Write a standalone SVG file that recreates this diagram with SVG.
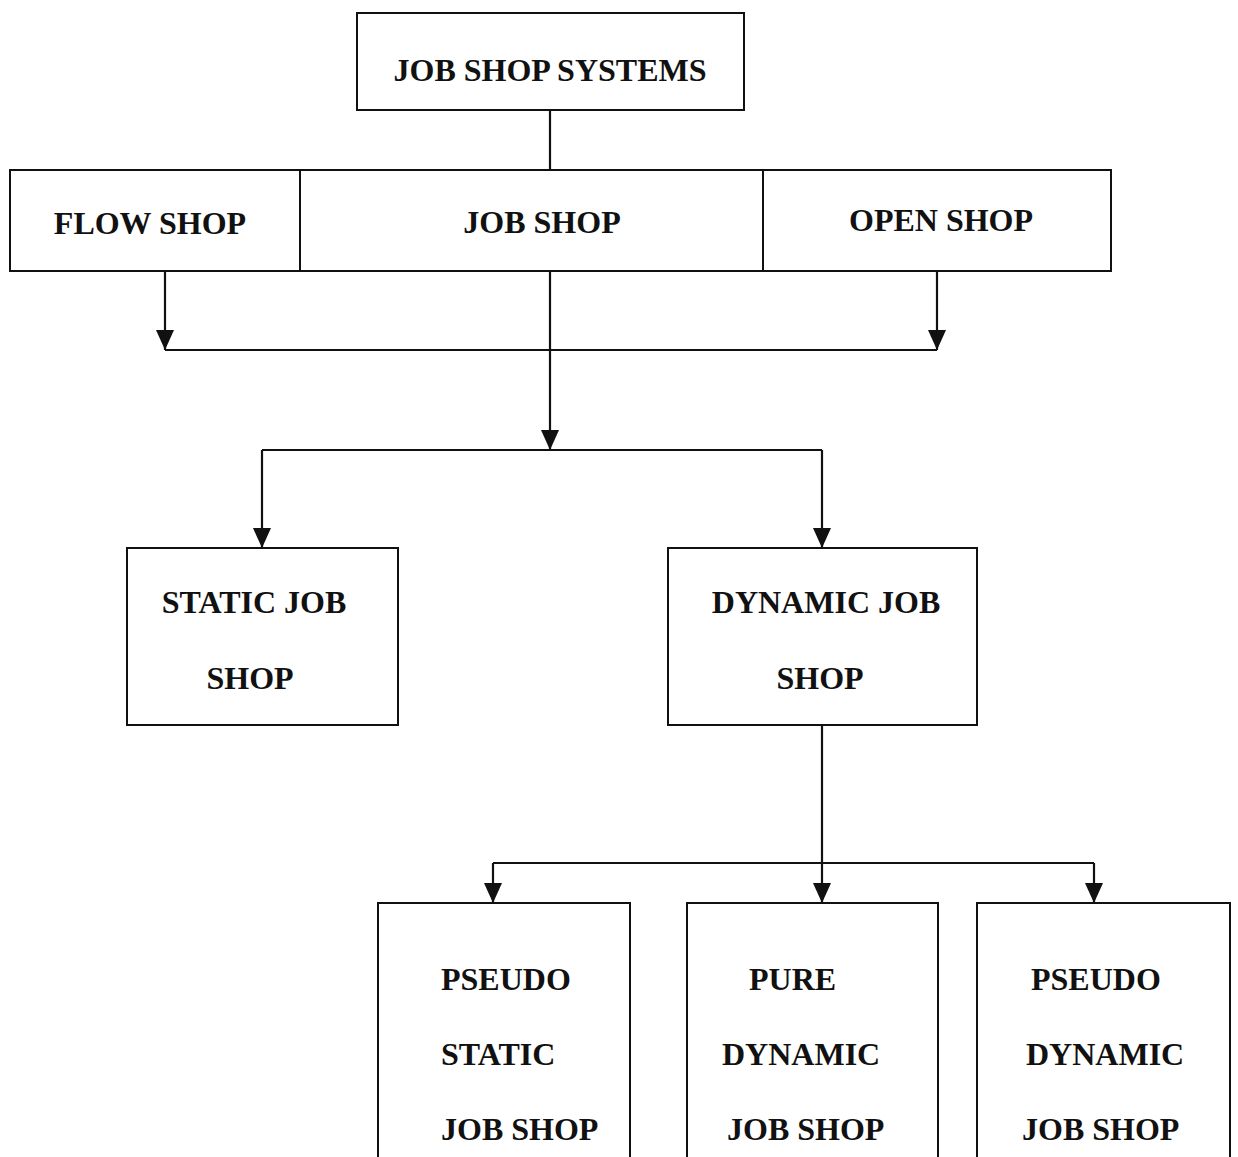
<svg xmlns="http://www.w3.org/2000/svg" width="1238" height="1157" viewBox="0 0 1238 1157">
<style>
.box{fill:#fff;stroke:#111;stroke-width:2}
.t{font-family:"Liberation Serif","Times New Roman",serif;font-weight:bold;font-size:32px;fill:#111}
.c{text-anchor:middle}
.ln{fill:none;stroke:#111;stroke-width:2.2}
</style>
<defs>
<marker id="arr" viewBox="0 0 20 18" refX="20" refY="9" markerWidth="20" markerHeight="18" markerUnits="userSpaceOnUse" orient="auto">
<path d="M0,0 L20,9 L0,18 z" fill="#111"/>
</marker>
</defs>
<rect width="1238" height="1157" fill="#fff"/>
<g id="connectors">
<path class="ln" d="M550,110 V170"/>
<path class="ln" d="M165,271 V350" marker-end="url(#arr)"/>
<path class="ln" d="M937,271 V350" marker-end="url(#arr)"/>
<path class="ln" d="M165,350 H937"/>
<path class="ln" d="M550,271 V450" marker-end="url(#arr)"/>
<path class="ln" d="M262,450 H822"/>
<path class="ln" d="M262,450 V548" marker-end="url(#arr)"/>
<path class="ln" d="M822,450 V548" marker-end="url(#arr)"/>
<path class="ln" d="M822,725 V903" marker-end="url(#arr)"/>
<path class="ln" d="M493,863 H1094"/>
<path class="ln" d="M493,863 V903" marker-end="url(#arr)"/>
<path class="ln" d="M1094,863 V903" marker-end="url(#arr)"/>
</g>
<g id="job-shop-systems">
<rect class="box" x="357" y="13" width="387" height="97"/>
<text class="t c" x="550" y="81">JOB SHOP SYSTEMS</text>
</g>
<g id="flow-shop">
<rect class="box" x="10" y="170" width="290" height="101"/>
<text class="t c" x="150" y="234">FLOW SHOP</text>
</g>
<g id="job-shop">
<rect class="box" x="300" y="170" width="463" height="101"/>
<text class="t c" x="542" y="233">JOB SHOP</text>
</g>
<g id="open-shop">
<rect class="box" x="763" y="170" width="348" height="101"/>
<text class="t c" x="941" y="231">OPEN SHOP</text>
</g>
<g id="static-job-shop">
<rect class="box" x="127" y="548" width="271" height="177"/>
<text class="t c" x="254" y="613">STATIC JOB</text>
<text class="t c" x="250" y="689">SHOP</text>
</g>
<g id="dynamic-job-shop">
<rect class="box" x="668" y="548" width="309" height="177"/>
<text class="t c" x="826" y="613">DYNAMIC JOB</text>
<text class="t c" x="820" y="689">SHOP</text>
</g>
<g id="pseudo-static-job-shop">
<rect class="box" x="378" y="903" width="252" height="270"/>
<text class="t" x="441" y="990">PSEUDO</text>
<text class="t" x="441" y="1065">STATIC</text>
<text class="t" x="441" y="1140">JOB SHOP</text>
</g>
<g id="pure-dynamic-job-shop">
<rect class="box" x="687" y="903" width="251" height="270"/>
<text class="t" x="749" y="990">PURE</text>
<text class="t" x="722" y="1065">DYNAMIC</text>
<text class="t" x="727" y="1140">JOB SHOP</text>
</g>
<g id="pseudo-dynamic-job-shop">
<rect class="box" x="977" y="903" width="253" height="270"/>
<text class="t" x="1031" y="990">PSEUDO</text>
<text class="t" x="1026" y="1065">DYNAMIC</text>
<text class="t" x="1022" y="1140">JOB SHOP</text>
</g>
</svg>
